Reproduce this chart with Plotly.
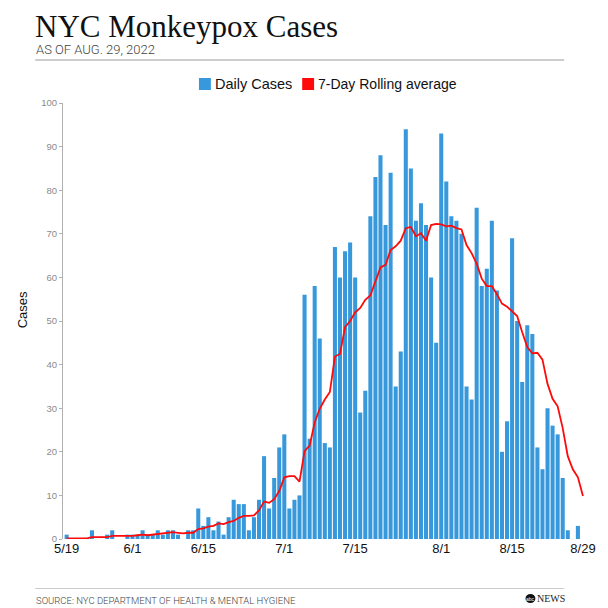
import plotly.graph_objects as go
import pandas as pd

# ---------------- data ----------------
dates = pd.date_range("2022-05-19", "2022-08-29", freq="D")

daily_cases = [1, 0, 0, 0, 0, 2, 0, 0, 1, 2,
               0, 0, 1, 1, 1, 2, 1, 1, 2, 1,
               2, 2, 1, 0, 2, 2, 7, 3, 5, 2,
               4, 1, 5, 9, 8, 8, 2, 5, 9, 19,
               7, 14, 21, 24, 7, 9, 10, 56, 23, 58,
               46, 22, 21, 67, 60, 66, 68, 60, 29, 34,
               74, 83, 88, 72, 84, 35, 43, 94, 85, 73,
               77, 72, 60, 45, 93, 82, 74, 73, 70, 35,
               32, 76, 58, 62, 73, 57, 20, 27, 69, 50,
               36, 49, 47, 21, 16, 30, 26, 24, 14, 2,
               0, 3, 0]

rolling_avg = [0.14, 0.14, 0.14, 0.14, 0.14, 0.43, 0.43, 0.29, 0.43, 0.71,
               0.71, 0.71, 0.57, 0.71, 0.86, 1.0, 0.86, 1.0, 1.29, 1.29,
               1.43, 1.57, 1.43, 1.29, 1.43, 1.43, 2.29, 2.43, 2.86, 3.0,
               3.57, 3.43, 3.86, 4.14, 4.86, 5.29, 5.29, 5.43, 6.57, 8.57,
               8.29, 9.14, 11.0, 14.14, 14.43, 14.43, 13.14, 20.14, 21.43, 26.71,
               29.86, 32.0, 33.71, 41.86, 42.43, 48.57, 50.0, 52.0, 53.0, 54.86,
               55.86, 59.14, 62.29, 62.86, 66.29, 67.14, 68.43, 71.29, 71.57, 69.43,
               70.14, 68.43, 72.0, 72.29, 72.14, 71.71, 71.86, 71.29, 71.0, 67.43,
               65.57, 63.14, 59.71, 58.0, 58.0, 56.14, 54.0, 53.29, 52.29, 51.14,
               47.43, 44.0, 42.57, 42.71, 41.14, 35.57, 32.14, 30.43, 25.43, 19.0,
               16.0, 14.14, 9.86]

tick_dates = ["2022-05-19", "2022-06-01", "2022-06-15", "2022-07-01",
              "2022-07-15", "2022-08-01", "2022-08-15", "2022-08-29"]
tick_labels = ["5/19", "6/1", "6/15", "7/1", "7/15", "8/1", "8/15", "8/29"]
y_ticks = [0, 10, 20, 30, 40, 50, 60, 70, 80, 90, 100]

BLUE = "#3799dc"
RED = "#ff0a0a"

# ---------------- geometry (screen pixels; page body has an 8px margin) ----------------
OFF = 8
W, H = 600, 600
S_LEFT, S_RIGHT, S_TOP, S_BOTTOM = 63, 591, 103, 539   # plot area on screen
L = S_LEFT - OFF
R = W - (S_RIGHT - OFF)
T = S_TOP - OFF
B = H - (S_BOTTOM - OFF)
PW, PH = W - L - R, H - T - B


def px(xs):
    return (xs - S_LEFT) / PW


def py(ys):
    return (S_BOTTOM - ys) / PH


fig = go.Figure()
fig.add_trace(go.Bar(x=dates, y=daily_cases, marker_color=BLUE,
                     marker_line_width=0, name="Daily Cases"))
fig.add_trace(go.Scatter(x=dates, y=rolling_avg, mode="lines",
                         line=dict(color=RED, width=1.8),
                         name="7-Day Rolling average"))

shapes = [
    dict(type="line", xref="paper", yref="paper", x0=px(35), x1=px(568),
         y0=py(60), y1=py(60), line=dict(color="#9a9a9a", width=1)),
    dict(type="line", xref="paper", yref="paper", x0=px(35), x1=px(568),
         y0=py(588.5), y1=py(588.5), line=dict(color="#cccccc", width=1)),
    dict(type="rect", xref="paper", yref="paper", x0=px(200), x1=px(212),
         y0=py(90), y1=py(78), fillcolor=BLUE, line=dict(width=0)),
    dict(type="rect", xref="paper", yref="paper", x0=px(304), x1=px(316),
         y0=py(90), y1=py(78), fillcolor=RED, line=dict(width=0)),
    dict(type="circle", xref="paper", yref="paper", x0=px(529), x1=px(539),
         y0=py(603), y1=py(594), fillcolor="#111", line=dict(width=0)),
]

annotations = [
    dict(text="NYC Monkeypox Cases", x=px(33), y=py(26), xref="paper", yref="paper",
         xanchor="left", yanchor="middle", showarrow=False,
         font=dict(family="Liberation Serif", size=31, color="#111")),
    dict(text="AS OF AUG. 29, 2022", x=px(34), y=py(50), xref="paper", yref="paper",
         xanchor="left", yanchor="middle", showarrow=False,
         font=dict(family="Roboto", size=13, color="#444", weight=300)),
    dict(text="Daily Cases", x=px(214), y=py(84), xref="paper", yref="paper",
         xanchor="left", yanchor="middle", showarrow=False,
         font=dict(family="Liberation Sans", size=14.5, color="#111")),
    dict(text="7-Day Rolling average", x=px(318), y=py(84), xref="paper", yref="paper",
         xanchor="left", yanchor="middle", showarrow=False,
         font=dict(family="Liberation Sans", size=14, color="#111")),
    dict(text="Cases", x=px(22), y=py(310), xref="paper", yref="paper",
         xanchor="center", yanchor="middle", showarrow=False, textangle=-90,
         font=dict(family="Liberation Sans", size=13, color="#111")),
    dict(text="SOURCE: NYC DEPARTMENT OF HEALTH &amp; MENTAL HYGIENE", x=px(34), y=py(600),
         xref="paper", yref="paper", xanchor="left", yanchor="middle", showarrow=False,
         font=dict(family="Roboto", size=9.5, color="#444", weight=300)),
    dict(text="abc", x=px(534), y=py(598.5), xref="paper", yref="paper",
         xanchor="center", yanchor="middle", showarrow=False,
         font=dict(family="Liberation Sans", size=5, color="white")),
    dict(text="NEWS", x=px(539), y=py(598.5), xref="paper", yref="paper",
         xanchor="left", yanchor="middle", showarrow=False,
         font=dict(family="Liberation Serif", size=10, color="#222")),
]

fig.update_layout(
    width=W, height=H,
    margin=dict(l=L, r=R, t=T, b=B, pad=0),
    paper_bgcolor="white", plot_bgcolor="white",
    showlegend=False, bargap=0.2,
    shapes=shapes, annotations=annotations,
    xaxis=dict(type="date", range=["2022-05-18 06:40", "2022-08-29 19:10"],
               tickvals=tick_dates, ticktext=tick_labels,
               tickfont=dict(family="Liberation Sans", size=13, color="#111"),
               showgrid=False, showline=False, zeroline=False, ticks=""),
    yaxis=dict(range=[0, 100], tickvals=y_ticks,
               tickfont=dict(family="Liberation Sans", size=9.5, color="#8a8a8a"),
               showgrid=False, zeroline=False, showline=True,
               linecolor="#b0b0b0", linewidth=1, ticks="outside", ticklen=3,
               tickcolor="#b0b0b0"),
)

fig.write_html("out.html")
